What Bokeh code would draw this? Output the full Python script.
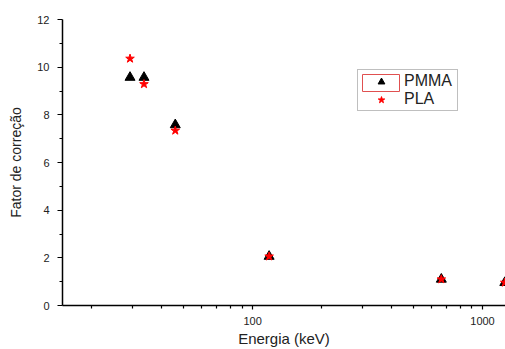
from bokeh.plotting import figure
from bokeh.models import (Range1d, FixedTicker, BasicTickFormatter, Legend,
                          LegendItem, BoxAnnotation)
from bokeh.embed import file_html
from bokeh.resources import INLINE

# ---- data ----
energy_pmma = [29.3, 33.7, 46.1, 118, 662, 1250]
fator_pmma = [9.57, 9.57, 7.58, 2.06, 1.10, 0.96]
energy_pla = [29.3, 33.7, 46.1, 118, 662, 1250]
fator_pla = [10.36, 9.29, 7.34, 2.06, 1.10, 0.96]

x_major = [100, 1000]
x_minor = [20, 30, 40, 50, 60, 70, 80, 90, 200, 300, 400, 500, 600, 700, 800, 900]
y_major = [0, 2, 4, 6, 8, 10, 12]
y_minor = [1, 3, 5, 7, 9, 11]

FONT = "Liberation Sans"

p = figure(width=505, height=349, x_axis_type="log",
           x_range=Range1d(14.9, 1259), y_range=Range1d(0, 12),
           output_backend="svg", toolbar_location=None,
           min_border_left=62, min_border_right=0, min_border_top=19,
           min_border_bottom=43)
p.outline_line_color = None
p.grid.visible = False
p.background_fill_color = "white"
p.border_fill_color = "white"

tri = p.scatter(energy_pmma, fator_pmma, marker="triangle", size=10,
                fill_color="black", line_color="black")
star = p.scatter(energy_pla, fator_pla, marker="star", size=9,
                 fill_color="#ff0000", line_color="#ff0000")

# axes
p.xaxis.ticker = FixedTicker(ticks=x_major, minor_ticks=x_minor)
p.xaxis.formatter = BasicTickFormatter()
p.yaxis.ticker = FixedTicker(ticks=y_major, minor_ticks=y_minor)

for ax in (p.xaxis, p.yaxis):
    ax.axis_line_color = "black"
    ax.axis_line_width = 1.5
    ax.major_tick_line_color = "black"
    ax.minor_tick_line_color = "black"
    ax.major_tick_line_width = 1.2
    ax.minor_tick_line_width = 1.2
    ax.major_tick_in = 0
    ax.minor_tick_in = 0
    ax.major_label_text_font = FONT
    ax.major_label_text_font_size = "11px"
    ax.major_label_text_color = "#222222"
    ax.axis_label_text_font = FONT
    ax.axis_label_text_font_style = "normal"
    ax.axis_label_text_color = "#222222"

p.xaxis.major_tick_out = 4
p.xaxis.minor_tick_out = 3
p.xaxis.major_label_standoff = 7
p.xaxis.axis_label = "Energia (keV)"
p.xaxis.axis_label_text_font_size = "15px"
p.xaxis.axis_label_standoff = 2

p.yaxis.major_tick_out = 5
p.yaxis.minor_tick_out = 3
p.yaxis.major_label_standoff = 8
p.yaxis.axis_label = "Fator de correção"
p.yaxis.axis_label_text_font_size = "14px"
p.yaxis.axis_label_standoff = 10

# red highlight box around the PMMA legend glyph (frame-relative screen units)
hl = BoxAnnotation(left=300, right=337, top=231, bottom=214,
                   left_units="screen", right_units="screen",
                   top_units="screen", bottom_units="screen",
                   fill_color="white", fill_alpha=0,
                   line_color="#e05050", line_alpha=1, line_width=1)
p.add_layout(hl)

legend = Legend(items=[LegendItem(label="PMMA", renderers=[tri]),
                       LegendItem(label="PLA", renderers=[star])],
                location=(295, 194), margin=0, padding=2, spacing=0,
                glyph_width=42, glyph_height=17, label_height=17,
                label_width=51, label_standoff=2,
                label_text_font=FONT, label_text_font_size="16px",
                label_text_color="#222222",
                border_line_color="#808080", border_line_width=1,
                background_fill_alpha=0)
p.add_layout(legend)

open("out.html", "w").write(file_html(p, INLINE))
